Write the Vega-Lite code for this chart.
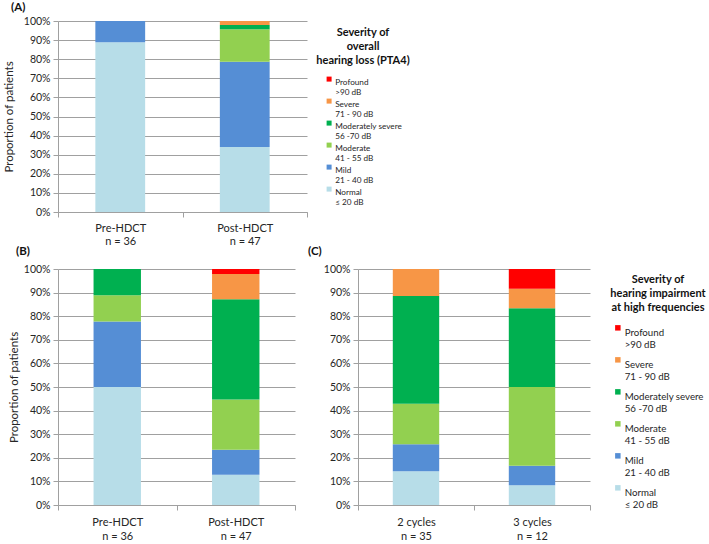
{
  "$schema": "https://vega.github.io/schema/vega-lite/v6.json",
  "background": "white",
  "padding": {"left": 3, "top": 1, "right": 0, "bottom": 0},
  "datasets": {
    "rows": [
      {"panel": "A", "group": "Pre-HDCT|n = 36", "severity": "Normal|≤ 20 dB", "level": 1, "count": 32},
      {"panel": "A", "group": "Pre-HDCT|n = 36", "severity": "Mild|21 - 40 dB", "level": 2, "count": 4},
      {"panel": "A", "group": "Post-HDCT|n = 47", "severity": "Normal|≤ 20 dB", "level": 1, "count": 16},
      {"panel": "A", "group": "Post-HDCT|n = 47", "severity": "Mild|21 - 40 dB", "level": 2, "count": 21},
      {"panel": "A", "group": "Post-HDCT|n = 47", "severity": "Moderate|41 - 55 dB", "level": 3, "count": 8},
      {"panel": "A", "group": "Post-HDCT|n = 47", "severity": "Moderately severe|56 -70 dB", "level": 4, "count": 1},
      {"panel": "A", "group": "Post-HDCT|n = 47", "severity": "Severe|71 - 90 dB", "level": 5, "count": 1},
      {"panel": "B", "group": "Pre-HDCT|n = 36", "severity": "Normal|≤ 20 dB", "level": 1, "count": 18},
      {"panel": "B", "group": "Pre-HDCT|n = 36", "severity": "Mild|21 - 40 dB", "level": 2, "count": 10},
      {"panel": "B", "group": "Pre-HDCT|n = 36", "severity": "Moderate|41 - 55 dB", "level": 3, "count": 4},
      {"panel": "B", "group": "Pre-HDCT|n = 36", "severity": "Moderately severe|56 -70 dB", "level": 4, "count": 4},
      {"panel": "B", "group": "Post-HDCT|n = 47", "severity": "Normal|≤ 20 dB", "level": 1, "count": 6},
      {"panel": "B", "group": "Post-HDCT|n = 47", "severity": "Mild|21 - 40 dB", "level": 2, "count": 5},
      {"panel": "B", "group": "Post-HDCT|n = 47", "severity": "Moderate|41 - 55 dB", "level": 3, "count": 10},
      {"panel": "B", "group": "Post-HDCT|n = 47", "severity": "Moderately severe|56 -70 dB", "level": 4, "count": 20},
      {"panel": "B", "group": "Post-HDCT|n = 47", "severity": "Severe|71 - 90 dB", "level": 5, "count": 5},
      {"panel": "B", "group": "Post-HDCT|n = 47", "severity": "Profound|>90 dB", "level": 6, "count": 1},
      {"panel": "C", "group": "2 cycles|n = 35", "severity": "Normal|≤ 20 dB", "level": 1, "count": 5},
      {"panel": "C", "group": "2 cycles|n = 35", "severity": "Mild|21 - 40 dB", "level": 2, "count": 4},
      {"panel": "C", "group": "2 cycles|n = 35", "severity": "Moderate|41 - 55 dB", "level": 3, "count": 6},
      {"panel": "C", "group": "2 cycles|n = 35", "severity": "Moderately severe|56 -70 dB", "level": 4, "count": 16},
      {"panel": "C", "group": "2 cycles|n = 35", "severity": "Severe|71 - 90 dB", "level": 5, "count": 4},
      {"panel": "C", "group": "3 cycles|n = 12", "severity": "Normal|≤ 20 dB", "level": 1, "count": 1},
      {"panel": "C", "group": "3 cycles|n = 12", "severity": "Mild|21 - 40 dB", "level": 2, "count": 1},
      {"panel": "C", "group": "3 cycles|n = 12", "severity": "Moderate|41 - 55 dB", "level": 3, "count": 4},
      {"panel": "C", "group": "3 cycles|n = 12", "severity": "Moderately severe|56 -70 dB", "level": 4, "count": 4},
      {"panel": "C", "group": "3 cycles|n = 12", "severity": "Severe|71 - 90 dB", "level": 5, "count": 1},
      {"panel": "C", "group": "3 cycles|n = 12", "severity": "Profound|>90 dB", "level": 6, "count": 1}
    ]
  },
  "config": {
    "font": "Lato",
    "view": {"stroke": null},
    "axis": {
      "labelFont": "Lato", "titleFont": "Lato", "labelColor": "#262626", "titleColor": "#262626",
      "domainColor": "#a0a0a0", "tickColor": "#a0a0a0", "gridColor": "#a0a0a0",
      "titleFontWeight": "normal"
    },
    "title": {"anchor": "start", "frame": "group", "fontSize": 11.5, "fontWeight": "bold", "font": "Lato", "color": "#111111"},
    "legend": {"labelFont": "Lato", "titleFont": "Lato", "labelColor": "#262626", "titleColor": "#111111"}
  },
  "resolve": {"scale": {"color": "independent"}, "legend": {"color": "independent"}},
  "spacing": -2,
  "vconcat": [
    {
      "title": {"text": "(A)", "offset": 3, "dx": -47},
      "width": 249,
      "height": 191,
      "data": {"name": "rows"},
      "transform": [{"filter": "datum.panel == 'A'"}],
      "mark": {"type": "bar", "width": {"band": 0.4}},
      "encoding": {
        "x": {"field": "group", "type": "nominal", "sort": null,
          "scale": {"paddingInner": 0, "paddingOuter": 0},
          "axis": {"title": null, "labelAngle": 0, "labelExpr": "split(datum.label, '|')", "labelFontSize": 11,
            "labelLineHeight": 13.5, "labelPadding": 5, "labelBaseline": "top", "tickBand": "extent", "tickSize": 5, "grid": false}},
        "y": {"field": "count", "type": "quantitative", "stack": "normalize",
          "scale": {"domain": [0, 1]},
          "axis": {"title": "Proportion of patients", "format": "%", "values": [0, 0.1, 0.2, 0.3, 0.4, 0.5, 0.6, 0.7, 0.8, 0.9, 1],
            "tickSize": 5, "labelPadding": 3, "labelFontSize": 10.5, "titleFontSize": 11.5, "titlePadding": 9}},
        "color": {"field": "severity", "type": "nominal",
          "scale": {"domain": ["Profound|>90 dB", "Severe|71 - 90 dB", "Moderately severe|56 -70 dB", "Moderate|41 - 55 dB", "Mild|21 - 40 dB", "Normal|≤ 20 dB"],
            "range": ["#ff0000", "#f79646", "#00b050", "#92d050", "#558ed5", "#b7dde8"]},
          "legend": {"title": ["Severity of", "overall", "hearing loss (PTA4)"], "orient": "none", "legendX": 258, "legendY": 6,
            "titleAnchor": "middle", "titleAlign": "center", "titleFontSize": 11, "titleFontWeight": "bold", "titleLineHeight": 14, "titlePadding": 9,
            "labelExpr": "split(datum.label, '|')", "labelFontSize": 8.2, "labelBaseline": "top", "labelOffset": 2,
            "symbolType": "square", "symbolSize": 25, "symbolStrokeWidth": 0, "rowPadding": 0, "padding": 0}},
        "order": {"field": "level", "type": "quantitative"}
      }
    },
    {
      "resolve": {"scale": {"color": "independent"}, "legend": {"color": "independent"}},
      "spacing": 12,
      "hconcat": [
        {
          "title": {"text": "(B)", "offset": 7, "dx": -42},
          "width": 237,
          "height": 236,
          "data": {"name": "rows"},
          "transform": [{"filter": "datum.panel == 'B'"}],
          "mark": {"type": "bar", "width": {"band": 0.4}},
          "encoding": {
            "x": {"field": "group", "type": "nominal", "sort": null,
              "scale": {"paddingInner": 0, "paddingOuter": 0},
              "axis": {"title": null, "labelAngle": 0, "labelExpr": "split(datum.label, '|')", "labelFontSize": 11,
                "labelLineHeight": 14, "labelPadding": 6, "labelBaseline": "top", "tickBand": "extent", "tickSize": 5, "grid": false}},
            "y": {"field": "count", "type": "quantitative", "stack": "normalize",
              "scale": {"domain": [0, 1]},
              "axis": {"title": "Proportion of patients", "format": "%", "values": [0, 0.1, 0.2, 0.3, 0.4, 0.5, 0.6, 0.7, 0.8, 0.9, 1],
                "tickSize": 5, "labelPadding": 3, "labelFontSize": 10.5, "titleFontSize": 11.5, "titlePadding": 4}},
            "color": {"field": "severity", "type": "nominal",
              "scale": {"domain": ["Profound|>90 dB", "Severe|71 - 90 dB", "Moderately severe|56 -70 dB", "Moderate|41 - 55 dB", "Mild|21 - 40 dB", "Normal|≤ 20 dB"],
                "range": ["#ff0000", "#f79646", "#00b050", "#92d050", "#558ed5", "#b7dde8"]},
              "legend": null},
            "order": {"field": "level", "type": "quantitative"}
          }
        },
        {
          "title": {"text": "(C)", "offset": 7, "dx": -50},
          "width": 232,
          "height": 236,
          "data": {"name": "rows"},
          "transform": [{"filter": "datum.panel == 'C'"}],
          "mark": {"type": "bar", "width": {"band": 0.4}},
          "encoding": {
            "x": {"field": "group", "type": "nominal", "sort": null,
              "scale": {"paddingInner": 0, "paddingOuter": 0},
              "axis": {"title": null, "labelAngle": 0, "labelExpr": "split(datum.label, '|')", "labelFontSize": 11,
                "labelLineHeight": 14, "labelPadding": 6, "labelBaseline": "top", "tickBand": "extent", "tickSize": 5, "grid": false}},
            "y": {"field": "count", "type": "quantitative", "stack": "normalize",
              "scale": {"domain": [0, 1]},
              "axis": {"title": null, "format": "%", "values": [0, 0.1, 0.2, 0.3, 0.4, 0.5, 0.6, 0.7, 0.8, 0.9, 1],
                "tickSize": 5, "labelPadding": 3, "labelFontSize": 10.5}},
            "color": {"field": "severity", "type": "nominal",
              "scale": {"domain": ["Profound|>90 dB", "Severe|71 - 90 dB", "Moderately severe|56 -70 dB", "Moderate|41 - 55 dB", "Mild|21 - 40 dB", "Normal|≤ 20 dB"],
                "range": ["#ff0000", "#f79646", "#00b050", "#92d050", "#558ed5", "#b7dde8"]},
              "legend": {"title": ["Severity of", "hearing impairment", "at high frequencies"], "orient": "none", "legendX": 252, "legendY": 5,
                "titleAnchor": "middle", "titleAlign": "center", "titleFontSize": 11, "titleFontWeight": "bold", "titleLineHeight": 14, "titlePadding": 10,
                "labelExpr": "split(datum.label, '|')", "labelFontSize": 9.7, "labelBaseline": "top", "labelOffset": 2,
                "symbolType": "square", "symbolSize": 30, "symbolStrokeWidth": 0, "rowPadding": 5, "padding": 0}},
            "order": {"field": "level", "type": "quantitative"}
          }
        }
      ]
    }
  ]
}
